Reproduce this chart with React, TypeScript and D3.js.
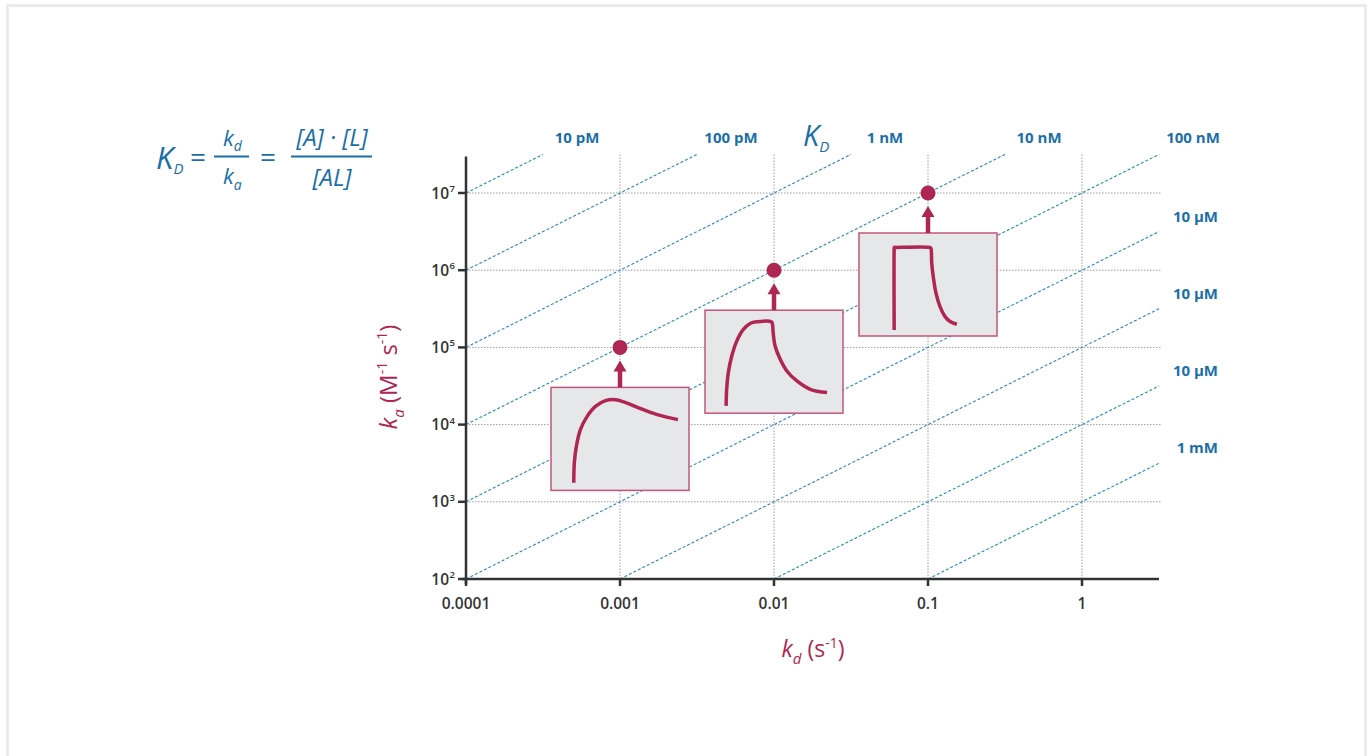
import React from "react";
import * as d3 from "d3";

// ---------- data ----------
const kdTicks = [1e-4, 1e-3, 1e-2, 1e-1, 1];
const kdTickLabels = ["0.0001", "0.001", "0.01", "0.1", "1"];
const kaTicks = [1e2, 1e3, 1e4, 1e5, 1e6, 1e7];
const kaTickExponents = ["2", "3", "4", "5", "6", "7"];

const kdDomainMax = Math.pow(10, 0.5);
const kaDomainMax = Math.pow(10, 7.5);

const KDValues = [1e-11, 1e-10, 1e-9, 1e-8, 1e-7, 1e-6, 1e-5, 1e-4, 1e-3];
const KDLabels = ["10 pM", "100 pM", "1 nM", "10 nM", "100 nM", "10 µM", "10 µM", "10 µM", "1 mM"];

const exampleKd = [1e-3, 1e-2, 1e-1];
const exampleKa = [1e5, 1e6, 1e7];

// sensorgrams: [time %, response %]
const sensorgram1: [number, number][] = [
  [16.5, 7.4], [16.9, 26.8], [18.4, 42.9], [21.3, 59], [26.2, 71.9], [32.2, 81.6],
  [39.5, 87.1], [46.7, 88.1], [55.2, 84.8], [64.9, 79.4], [77, 73.5], [92, 68.7],
];
const sensorgram2: [number, number][] = [
  [15.3, 7.1], [15.7, 23.2], [16.9, 39.4], [19.4, 55.5], [23.0, 70.0], [27.8, 81.3],
  [32.7, 87.1], [37.5, 88.7], [48.2, 88.7], [48.9, 86.5], [49.4, 78.1], [50.8, 65.2],
  [54.5, 52.3], [59.3, 41.0], [66.6, 31.3], [76.3, 23.2], [88.4, 20.0],
];
const sensorgram3: [number, number][] = [
  [25.5, 5.8], [25.5, 84.8], [25.6, 86.0], [26.6, 86.0], [51.4, 86.0], [52.1, 85.2],
  [52.7, 70.8], [53.8, 57.8], [55.8, 41.6], [58.7, 28.6], [62.4, 18.8], [66.0, 14.0], [70.9, 11.4],
];
const sensorgrams = [sensorgram1, sensorgram2, sensorgram3];

// ---------- styles ----------
const BLUE = "#1b6fa8";
const LINE_BLUE = "#2b86c2";
const CRIMSON = "#ae2651";
const BOX_STROKE = "#c45577";
const AXIS = "#333333";
const GRID = "#9c9c9c";
const FONT = "'Open Sans', 'Noto Sans', sans-serif";

export default function App() {
  const W = 1370;
  const H = 756;

  const x = d3.scaleLog().domain([1e-4, 1]).range([466, 1082]);
  const y = d3.scaleLog().domain([1e2, 1e7]).range([579, 193]);

  const xEnd = x(kdDomainMax);
  const yTop = y(kaDomainMax);

  const kdLines = KDValues.map((K, i) => {
    const kd0 = Math.max(1e-4, K * 1e2);
    const kd1 = Math.min(kdDomainMax, K * kaDomainMax);
    const atTop = K * kaDomainMax <= kdDomainMax + 1e-9;
    return {
      x1: x(kd0), y1: y(kd0 / K), x2: x(kd1), y2: y(kd1 / K),
      atTop, label: KDLabels[i],
    };
  });

  const boxW = 138;
  const boxH = 103;
  const bx = d3.scaleLinear().domain([0, 100]).range([0, boxW]);
  const by = d3.scaleLinear().domain([0, 100]).range([boxH, 0]);
  const lineGen = d3
    .line<[number, number]>()
    .x((d) => bx(d[0]))
    .y((d) => by(d[1]))
    .curve(d3.curveCatmullRom.alpha(0.5));

  return (
    <div style={{ position: "absolute", left: 0, top: 0 }}>
      <svg width={W} height={H} style={{ display: "block", fontFamily: FONT }}>
        <rect x={0} y={0} width={W} height={H} fill="#fff" />
        {/* frame */}
        <rect x={7.5} y={5.5} width={1358} height={800} fill="none" stroke="#e8e8e8" strokeWidth={2.5} />

        {/* grid */}
        {kaTicks.slice(1).map((v) => (
          <line key={"hg" + v} x1={x(1e-4)} x2={xEnd + 2} y1={y(v)} y2={y(v)}
            stroke={GRID} strokeWidth={1} strokeDasharray="1.5,1.5" />
        ))}
        {kdTicks.slice(1).map((v) => (
          <line key={"vg" + v} x1={x(v)} x2={x(v)} y1={y(1e2)} y2={yTop}
            stroke={GRID} strokeWidth={1} strokeDasharray="1.5,1.5" />
        ))}

        {/* KD lines */}
        {kdLines.map((l, i) => (
          <line key={"kd" + i} x1={l.x1} y1={l.y1} x2={l.x2} y2={l.y2}
            stroke={LINE_BLUE} strokeWidth={1.1} strokeDasharray="3,2" />
        ))}
        {kdLines.map((l, i) =>
          l.atTop ? (
            <text key={"kl" + i} x={l.x2 + 34} y={yTop - 11} textAnchor="middle"
              fontSize={15} fontWeight={700} fill={BLUE}>{l.label}</text>
          ) : (
            <text key={"kl" + i} x={xEnd + 59} y={l.y2 - 10} textAnchor="end"
              fontSize={15} fontWeight={700} fill={BLUE}>{l.label}</text>
          )
        )}
        <text x={803} y={146} fontSize={29} fontStyle="italic" fill={BLUE}>
          K<tspan fontSize={15} dy={6}>D</tspan>
        </text>

        {/* axes */}
        <line x1={x(1e-4) - 4} x2={xEnd} y1={y(1e2)} y2={y(1e2)} stroke={AXIS} strokeWidth={2.5} />
        <line x1={x(1e-4)} x2={x(1e-4)} y1={y(1e2) + 5} y2={yTop + 2} stroke={AXIS} strokeWidth={2.5} />
        {kdTicks.map((v, i) => (
          <g key={"xt" + v}>
            <line x1={x(v)} x2={x(v)} y1={y(1e2)} y2={y(1e2) + 7} stroke={AXIS} strokeWidth={2.5} />
            <text x={x(v)} y={y(1e2) + 30} textAnchor="middle" fontSize={15.5} fontWeight={600} fill={AXIS}>
              {kdTickLabels[i]}
            </text>
          </g>
        ))}
        {kaTicks.map((v, i) => (
          <g key={"yt" + v}>
            <line x1={x(1e-4) - 8} x2={x(1e-4)} y1={y(v)} y2={y(v)} stroke={AXIS} strokeWidth={2.5} />
            <text x={x(1e-4) - 17} y={y(v) + 5.5} textAnchor="end" fontSize={15.5} fontWeight={600} fill={AXIS}>
              10
            </text>
            <text x={x(1e-4) - 16.5} y={y(v) - 1} textAnchor="start" fontSize={9.5} fontWeight={600} fill={AXIS}>
              {kaTickExponents[i]}
            </text>
          </g>
        ))}

        {/* axis titles */}
        <text x={813} y={657} textAnchor="middle" fontSize={23} fill={CRIMSON}>
          <tspan fontStyle="italic">k</tspan>
          <tspan fontStyle="italic" fontSize={15} dy={7}>d</tspan>
          <tspan dy={-7}> (s</tspan>
          <tspan fontSize={14} dy={-9}>-1</tspan>
          <tspan dy={9}>)</tspan>
        </text>
        <text transform="translate(397,377) rotate(-90)" textAnchor="middle" fontSize={24} fill={CRIMSON}>
          <tspan fontStyle="italic">k</tspan>
          <tspan fontStyle="italic" fontSize={15} dy={7}>a</tspan>
          <tspan dy={-7}> (M</tspan>
          <tspan fontSize={14} dy={-10}>-1</tspan>
          <tspan dy={10}> s</tspan>
          <tspan fontSize={14} dy={-10}>-1</tspan>
          <tspan dy={10}>)</tspan>
        </text>

        {/* example insets */}
        {exampleKd.map((kd, i) => {
          const px = x(kd);
          const py = y(exampleKa[i]);
          const top = py + 40;
          return (
            <g key={"ex" + i}>
              <rect x={px - boxW / 2} y={top} width={boxW} height={boxH}
                fill="#e6e7e8" stroke={BOX_STROKE} strokeWidth={1.5} />
              <g transform={`translate(${px - boxW / 2},${top})`}>
                <path d={lineGen(sensorgrams[i]) || ""} fill="none" stroke={CRIMSON} strokeWidth={3.5} />
              </g>
              <line x1={px} x2={px} y1={top} y2={py + 23} stroke={CRIMSON} strokeWidth={4.5} />
              <path d={`M${px},${py + 13} L${px + 6.5},${py + 24} L${px - 6.5},${py + 24} Z`} fill={CRIMSON} />
              <circle cx={px} cy={py} r={7.5} fill={CRIMSON} />
            </g>
          );
        })}

        {/* formula */}
        <g fill={BLUE} fontStyle="italic">
          <text x={156} y={169} fontSize={31}>
            K<tspan fontSize={15} dy={5}>D</tspan>
          </text>
          <text x={198} y={167} fontSize={28} fontStyle="normal" textAnchor="middle">=</text>
          <line x1={214} x2={249} y1={156.5} y2={156.5} stroke={BLUE} strokeWidth={2} />
          <text x={223} y={146} fontSize={22}>
            k<tspan fontSize={14} dy={5}>d</tspan>
          </text>
          <text x={223} y={184} fontSize={22}>
            k<tspan fontSize={14} dy={6}>a</tspan>
          </text>
          <text x={268} y={167} fontSize={28} fontStyle="normal" textAnchor="middle">=</text>
          <line x1={291} x2={372} y1={156.5} y2={156.5} stroke={BLUE} strokeWidth={2} />
          <text x={332} y={146} fontSize={24} textAnchor="middle">[A] · [L]</text>
          <text x={332} y={186} fontSize={24} textAnchor="middle">[AL]</text>
        </g>
      </svg>
    </div>
  );
}
